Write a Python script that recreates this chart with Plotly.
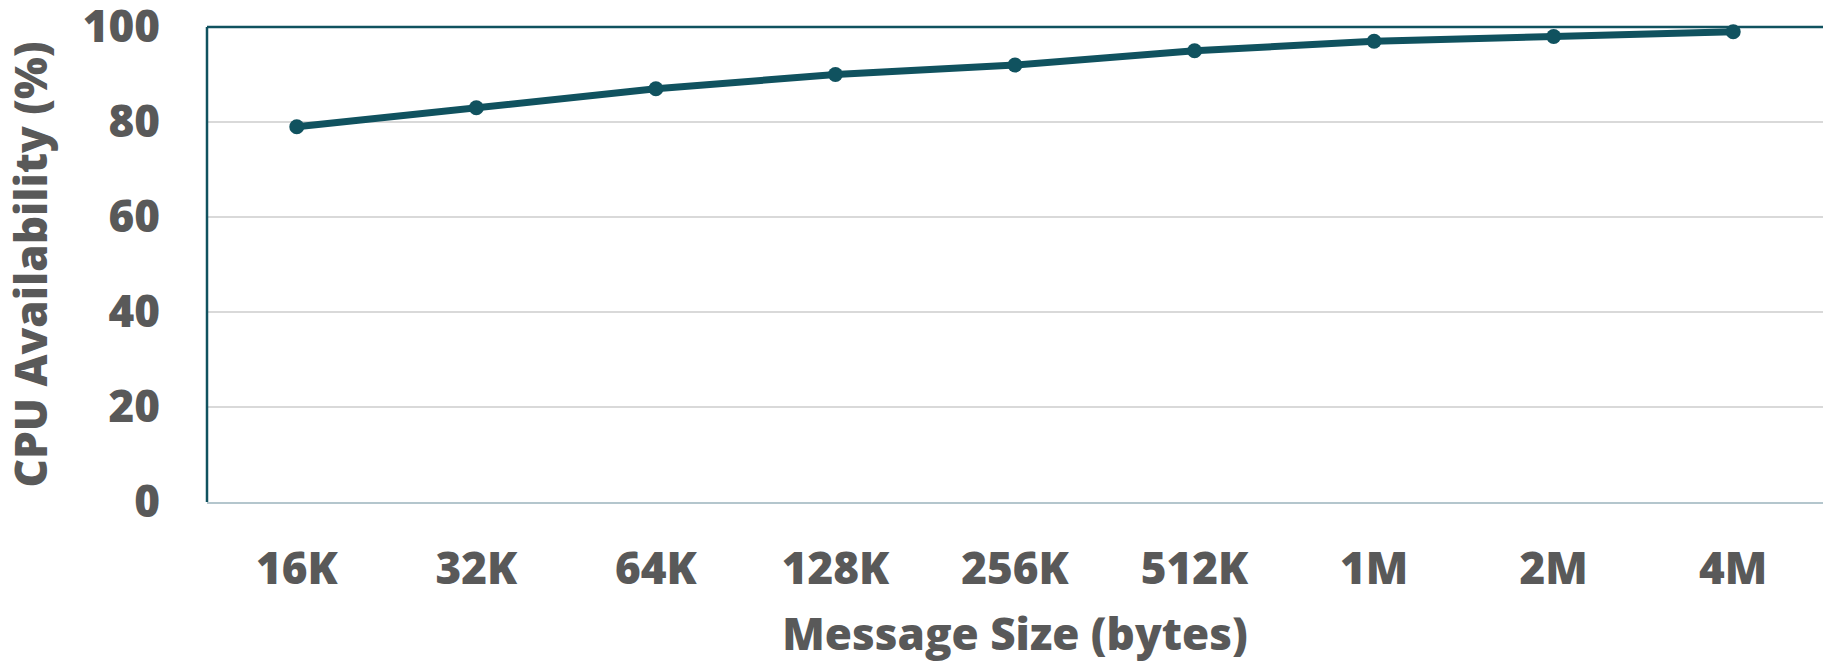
import plotly.graph_objects as go

# Message sizes and measured CPU availability
message_sizes = ["16K", "32K", "64K", "128K", "256K", "512K", "1M", "2M", "4M"]
cpu_availability = [79, 83, 87, 90, 92, 95, 97, 98, 99]
y_ticks = [0, 20, 40, 60, 80, 100]

LINE_COLOR = "#10525F"
TEXT_COLOR = "#595959"
FONT = dict(family="Open Sans", size=44, color=TEXT_COLOR, weight=800)

fig = go.Figure(
    go.Scatter(
        x=message_sizes,
        y=cpu_availability,
        mode="lines+markers",
        line=dict(color=LINE_COLOR, width=7),
        marker=dict(color=LINE_COLOR, size=15),
        cliponaxis=False,
        showlegend=False,
    )
)

fig.update_layout(
    width=1823,
    height=663,
    margin=dict(l=207, r=0, t=27, b=161),
    paper_bgcolor="white",
    plot_bgcolor="white",
    font=FONT,
    xaxis=dict(
        type="category",
        range=[-0.5, len(message_sizes) - 0.5],
        showgrid=False,
        showline=True,
        linecolor="#B4C6CD",
        linewidth=2,
        ticks="",
        ticklabelstandoff=27,
        tickfont=FONT,
        automargin=False,
        title=dict(text="Message Size (bytes)", font=FONT, standoff=31),
    ),
    yaxis=dict(
        range=[0, 100],
        tickvals=y_ticks,
        showgrid=True,
        gridcolor="#D9D9D9",
        gridwidth=2,
        zeroline=False,
        showline=False,
        ticks="",
        ticklabelstandoff=46,
        ticklabeloverflow="allow",
        tickfont=FONT,
        automargin=False,
        title=dict(text="CPU Availability (%)", font=FONT, standoff=28),
    ),
    shapes=[
        # dark frame on the left and top of the plotting area
        dict(type="line", xref="paper", yref="paper", x0=0, x1=0, y0=0, y1=1,
             line=dict(color=LINE_COLOR, width=2.5)),
        dict(type="line", xref="paper", yref="paper", x0=0, x1=1, y0=1, y1=1,
             line=dict(color=LINE_COLOR, width=2.5)),
    ],
)

fig.write_html("out.html")
